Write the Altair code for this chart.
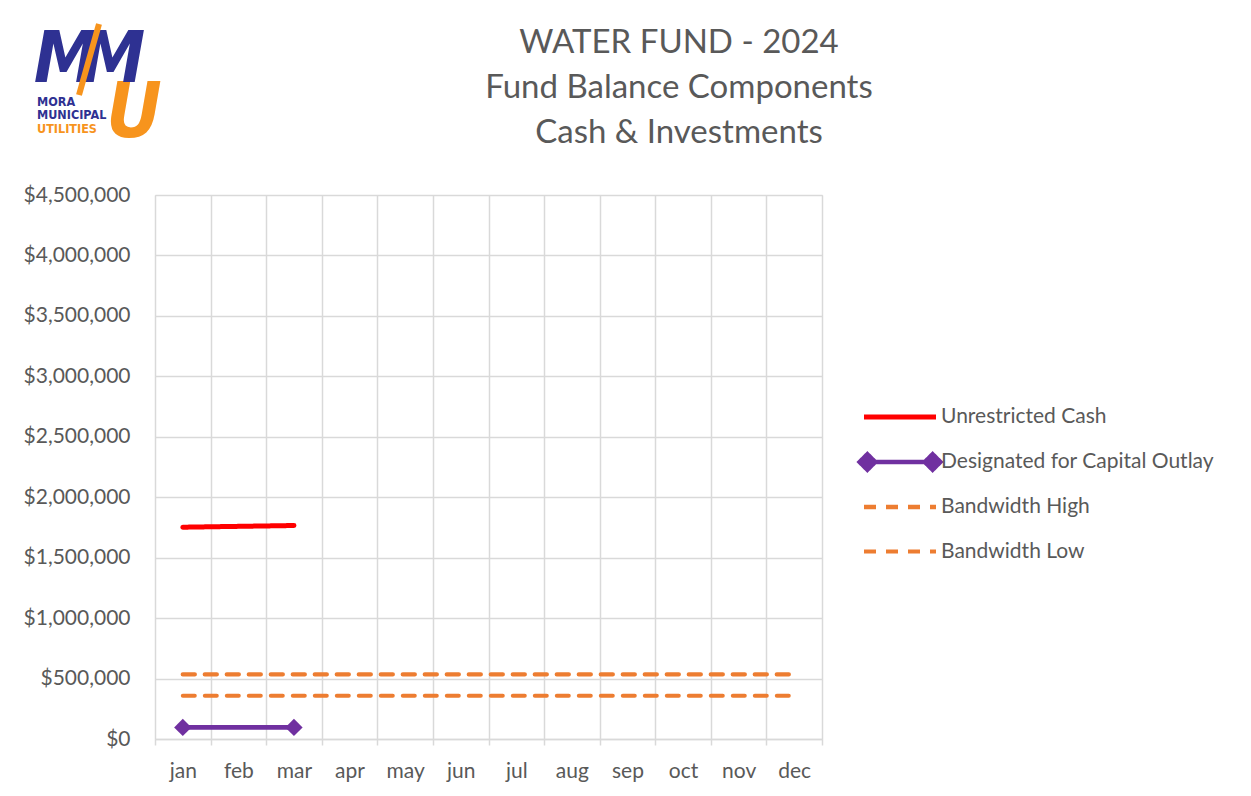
import altair as alt
import pandas as pd

months = ["jan", "feb", "mar", "apr", "may", "jun", "jul", "aug", "sep", "oct", "nov", "dec"]

unrestricted_cash = [1752000, 1759000, 1766000]
designated_capital = [96000, None, 96000]
bandwidth_high = [535000, 535000, 535000, 535000, 535000, 535000,
                  535000, 535000, 535000, 535000, 535000, 535000]
bandwidth_low = [358000, 358000, 358000, 358000, 358000, 358000,
                 358000, 358000, 358000, 358000, 358000, 358000]

series_names = ["Unrestricted Cash", "Designated for Capital Outlay", "Bandwidth High", "Bandwidth Low"]
series_colors = ["#FF0000", "#7030A0", "#ED7D31", "#ED7D31"]
series_dash = [[1, 0], [1, 0], [12, 10], [12, 10]]
series_width = [5, 4, 5, 5]
y_ticks = [0, 500000, 1000000, 1500000, 2000000, 2500000, 3000000, 3500000, 4000000, 4500000]
title_lines = ["WATER FUND - 2024", "Fund Balance Components", "Cash & Investments"]

rows = []
for name, vals in zip(series_names, [unrestricted_cash, designated_capital, bandwidth_high, bandwidth_low]):
    for m, v in zip(months, vals):
        rows.append({"month": m, "value": v, "series": name})
df = pd.DataFrame(rows)

FONT = "Lato"
TXT = "#595959"
GRID = "#d9d9d9"

x_enc = alt.X(
    "month:N", sort=months,
    scale=alt.Scale(type="band", domain=months, paddingInner=0, paddingOuter=0),
    axis=alt.Axis(title=None, tickBand="extent", grid=True, gridColor=GRID, gridWidth=1.5,
                  domainColor=GRID, domainWidth=1.5, tickColor=GRID, tickWidth=1.5, tickSize=6,
                  labelFont=FONT, labelFontSize=21, labelColor=TXT, labelPadding=15, labelAngle=0),
)
y_enc = alt.Y(
    "value:Q",
    scale=alt.Scale(domain=[0, 4500000], nice=False, zero=True),
    axis=alt.Axis(title=None, values=y_ticks, format="$,.0f", grid=True, gridColor=GRID, gridWidth=1.5,
                  ticks=False, tickSize=0, domain=False, labelFont=FONT, labelFontSize=21,
                  labelColor=TXT, labelPadding=25),
)


def diamond(cx, r):
    return f"M{cx},{-r}L{cx + r},0L{cx},{r}L{cx - r},0Z"


line_path = "M-1.6,0H1.6"
diamond_path = "M-1.45,0H1.45" + "".join(
    diamond(c, r) for c in (-1.45, 1.45) for r in (0.34, 0.22, 0.1)
)
legend_shapes = [line_path, diamond_path, line_path, line_path]

leg = alt.Legend(title=None, orient="none", legendX=720, legendY=197, symbolSize=2025,
                 symbolStrokeWidth=4, labelFont=FONT, labelFontSize=21,
                 labelColor=TXT, labelOffset=16, rowPadding=3, gridAlign="all",
                 symbolOpacity=1, labelLimit=400)

color_scale = alt.Scale(domain=series_names, range=series_colors)
dash_scale = alt.Scale(domain=series_names, range=series_dash)
width_scale = alt.Scale(domain=series_names, range=series_width)
shape_scale = alt.Scale(domain=series_names, range=legend_shapes)

lines = alt.Chart(df).mark_line(strokeCap="round", strokeJoin="round", invalid="filter").encode(
    x=x_enc, y=y_enc,
    color=alt.Color("series:N", scale=color_scale, legend=leg),
    strokeDash=alt.StrokeDash("series:N", scale=dash_scale, legend=leg),
    strokeWidth=alt.StrokeWidth("series:N", scale=width_scale, legend=leg),
)

points = alt.Chart(df).transform_filter(
    (alt.datum.series == "Designated for Capital Outlay") & alt.expr.isValid(alt.datum.value)
).mark_point(shape="diamond", filled=True, size=300, color="#7030A0", opacity=1).encode(x=x_enc, y=y_enc)

# invisible layer that only contributes the legend symbol shapes
legend_layer = alt.Chart(df).transform_filter("false").mark_point(filled=False, opacity=1).encode(
    color=alt.Color("series:N", scale=color_scale, legend=leg),
    shape=alt.Shape("series:N", scale=shape_scale, legend=leg),
)

# logo (decoration), positioned relative to plot origin
logo_df = pd.DataFrame({"a": [0]})
NAVY = "#2E3192"
ORANGE = "#F7941D"
BIG = "Liberation Sans Narrow, DejaVu Sans Condensed, sans-serif"


def text_at(txt, x, y, size, color, weight="bold", style="italic", font=BIG, align="center"):
    return alt.Chart(logo_df).mark_text(
        text=txt, fontSize=size, font=font, fontWeight=weight, fontStyle=style, color=color,
        align=align, baseline="alphabetic"
    ).encode(x=alt.value(x), y=alt.value(y))


logo_u = text_at("U", -21, -58, 76, ORANGE)
logo_m1 = text_at("M", -89, -113, 72, NAVY)
logo_m2 = text_at("M", -42, -113, 72, NAVY)
bolt = alt.Chart(logo_df).mark_rule(color=ORANGE, strokeWidth=6).encode(
    x=alt.value(-56), y=alt.value(-171), x2=alt.value(-76), y2=alt.value(-100))
small1 = text_at("MORA", -118, -89, 12.5, NAVY, style="normal", align="left")
small2 = text_at("MUNICIPAL", -118, -76, 12.5, NAVY, style="normal", align="left")
small3 = text_at("UTILITIES", -118, -62, 12.5, ORANGE, style="normal", align="left")

title_layers = [
    text_at(t, 524, yb, 33, TXT, weight="normal", style="normal", font=FONT)
    for t, yb in zip(title_lines, [-142, -97, -52])
]

chart = alt.layer(
    lines, points, legend_layer, logo_u, logo_m1, logo_m2, bolt, small1, small2, small3, *title_layers
).properties(
    width=667, height=544,
    autosize=alt.AutoSizeParams(type="none"),
    padding={"left": 147, "top": 187, "right": 421, "bottom": 49},
).configure_view(stroke=None).configure(background="white")

chart.save("out.html", embed_options={"renderer": "svg", "actions": False})
